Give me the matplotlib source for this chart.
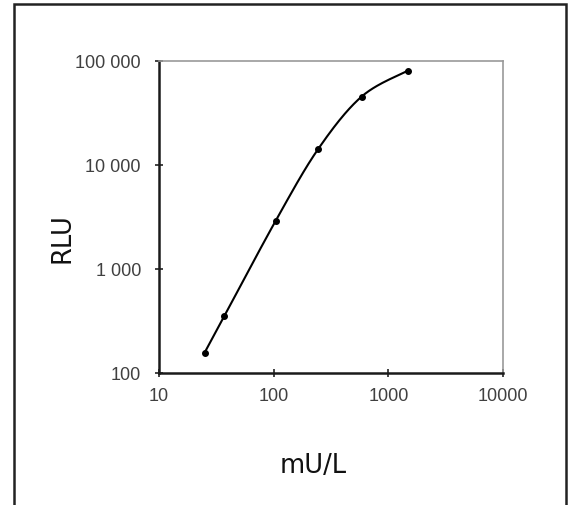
"""
plot.py - log-log standard curve (RLU vs mU/L), smoothed line through points.
"""

import numpy as np
import matplotlib
matplotlib.use("Agg")
import matplotlib.pyplot as plt
from matplotlib.patches import Rectangle
from matplotlib.ticker import FixedLocator, FuncFormatter, NullLocator


# ---------------------------------------------------------------------------
# Data
# ---------------------------------------------------------------------------

conc_mu_per_l = [25, 37, 104, 245, 585, 1470]
rlu = [157, 350, 2900, 14300, 45500, 80500]

x_ticks = [10, 100, 1000, 10000]
y_ticks = [100, 1000, 10000, 100000]


def catmull_rom(xs, ys, n_per_seg=40):
    """Excel-like smoothed line: Catmull-Rom spline through the points."""
    pts = np.column_stack([xs, ys])
    pts = np.vstack([pts[0], pts, pts[-1]])
    out = []
    for i in range(1, len(pts) - 2):
        p0, p1, p2, p3 = pts[i - 1], pts[i], pts[i + 1], pts[i + 2]
        t = np.linspace(0, 1, n_per_seg)[:, None]
        seg = 0.5 * ((2 * p1) + (-p0 + p2) * t
                     + (2 * p0 - 5 * p1 + 4 * p2 - p3) * t ** 2
                     + (-p0 + 3 * p1 - 3 * p2 + p3) * t ** 3)
        out.append(seg)
    out = np.vstack(out)
    return out[:, 0], out[:, 1]


def space_thousands(v, _pos):
    return f"{int(round(v)):,}".replace(",", " ")


# ---------------------------------------------------------------------------
# Plot
# ---------------------------------------------------------------------------

fig = plt.figure(figsize=(5.71, 5.05), dpi=100)
fig.patch.set_facecolor("white")

# outer frame around the whole chart
fig.patches.append(Rectangle((14 / 571, -0.02), 552 / 571, 1 - 3.5 / 505 + 0.02,
                             transform=fig.transFigure, fill=False,
                             edgecolor="#222222", linewidth=1.8))

ax = fig.add_axes([159 / 571, 1 - 373 / 505, 344 / 571, 312 / 505])
ax.set_xscale("log")
ax.set_yscale("log")
ax.set_xlim(10, 10000)
ax.set_ylim(100, 100000)

# smoothed curve is computed in log-log space
lx, ly = catmull_rom(np.log10(conc_mu_per_l), np.log10(rlu))
ax.plot(10 ** lx, 10 ** ly, color="black", linewidth=1.5, zorder=3)
ax.plot(conc_mu_per_l, rlu, linestyle="none", marker="o", markersize=4,
        color="black", zorder=4)

ax.xaxis.set_major_locator(FixedLocator(x_ticks))
ax.yaxis.set_major_locator(FixedLocator(y_ticks))
ax.xaxis.set_minor_locator(NullLocator())
ax.yaxis.set_minor_locator(NullLocator())
ax.xaxis.set_major_formatter(FuncFormatter(lambda v, p: f"{int(round(v))}"))
ax.yaxis.set_major_formatter(FuncFormatter(space_thousands))

ax.tick_params(axis="both", direction="inout", length=6, width=1.2,
               color="#222222", labelcolor="#404040", labelsize=13)
ax.tick_params(axis="x", pad=8)
ax.tick_params(axis="y", pad=10)
for lab in ax.get_xticklabels() + ax.get_yticklabels():
    lab.set_fontfamily("Liberation Sans")

for side in ("left", "bottom"):
    ax.spines[side].set_color("#1a1a1a")
    ax.spines[side].set_linewidth(1.8)
for side in ("top", "right"):
    ax.spines[side].set_color("#999999")
    ax.spines[side].set_linewidth(1.2)

fig.text(62 / 571, 1 - 238 / 505, "RLU", rotation=90, ha="center", va="center",
         fontsize=18.5, family="DejaVu Sans", color="#111111")
fig.text(313 / 571, 1 - 466 / 505, "mU/L", ha="center", va="center",
         fontsize=18.5, family="DejaVu Sans", color="#111111")

fig.savefig("out.png", dpi=100, facecolor="white")
